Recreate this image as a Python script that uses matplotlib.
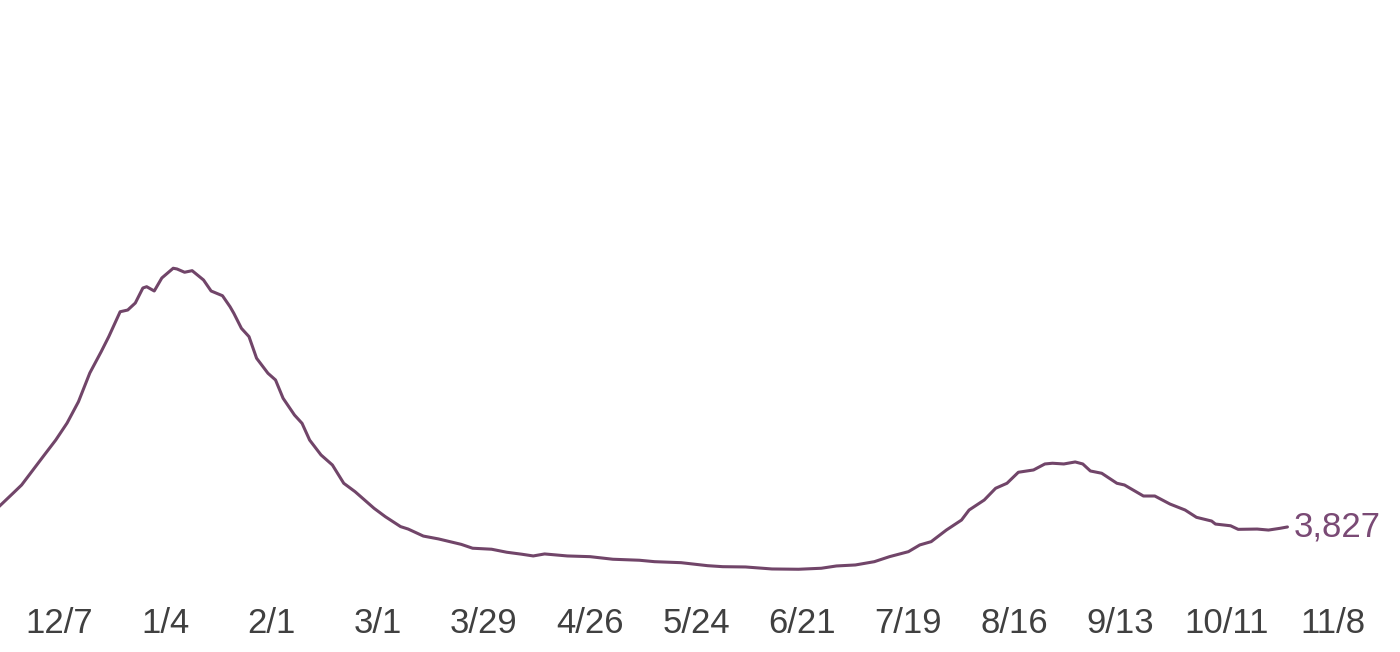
import numpy as np
import pandas as pd
import matplotlib
matplotlib.use('Agg')
import matplotlib.pyplot as plt
import matplotlib.dates as mdates

plt.rcParams['font.family'] = ['Liberation Sans', 'DejaVu Sans']

# hospitalized patients
dates = ['2020-11-21', '2020-11-25', '2020-11-27', '2020-12-01', '2020-12-03', '2020-12-06',
         '2020-12-09', '2020-12-12', '2020-12-15', '2020-12-18', '2020-12-20', '2020-12-23',
         '2020-12-25', '2020-12-27', '2020-12-29', '2020-12-30', '2021-01-01', '2021-01-03',
         '2021-01-06', '2021-01-07', '2021-01-09', '2021-01-11', '2021-01-14', '2021-01-16',
         '2021-01-19', '2021-01-21', '2021-01-22', '2021-01-24', '2021-01-26', '2021-01-28',
         '2021-01-31', '2021-02-02', '2021-02-04', '2021-02-07', '2021-02-09', '2021-02-11',
         '2021-02-14', '2021-02-17', '2021-02-20', '2021-02-23', '2021-02-28', '2021-03-03',
         '2021-03-07', '2021-03-09', '2021-03-13', '2021-03-17', '2021-03-23', '2021-03-26',
         '2021-03-31', '2021-04-04', '2021-04-08', '2021-04-11', '2021-04-14', '2021-04-20',
         '2021-04-26', '2021-05-02', '2021-05-09', '2021-05-13', '2021-05-20', '2021-05-27',
         '2021-05-31', '2021-06-06', '2021-06-13', '2021-06-20', '2021-06-26', '2021-06-30',
         '2021-07-05', '2021-07-10', '2021-07-14', '2021-07-19', '2021-07-22', '2021-07-25',
         '2021-07-29', '2021-08-02', '2021-08-04', '2021-08-08', '2021-08-11', '2021-08-14',
         '2021-08-17', '2021-08-21', '2021-08-24', '2021-08-26', '2021-08-29', '2021-09-01',
         '2021-09-03', '2021-09-05', '2021-09-08', '2021-09-12', '2021-09-14', '2021-09-19',
         '2021-09-22', '2021-09-26', '2021-09-30', '2021-10-03', '2021-10-07', '2021-10-08',
         '2021-10-12', '2021-10-14', '2021-10-19', '2021-10-22', '2021-10-25', '2021-10-27']
values = [5240, 6250, 6760, 8160, 8860, 9900,
          11090, 12580, 14590, 16080, 17130, 18870,
          18990, 19480, 20530, 20620, 20320, 21230,
          21910, 21860, 21630, 21740, 21090, 20320,
          19990, 19220, 18760, 17710, 17130, 15620,
          14570, 14100, 12820, 11650, 11070, 9900,
          8860, 8160, 6880, 6290, 5130, 4540,
          3850, 3680, 3190, 2990, 2610, 2340,
          2270, 2060, 1920, 1800, 1940, 1800,
          1750, 1570, 1500, 1400, 1330, 1120,
          1050, 1030, 890, 870, 940, 1100,
          1170, 1400, 1750, 2100, 2570, 2800,
          3610, 4310, 5010, 5710, 6530, 6880,
          7650, 7810, 8230, 8280, 8230, 8370,
          8230, 7740, 7580, 6880, 6760, 5990,
          5990, 5430, 5010, 4500, 4240, 4030,
          3910, 3660, 3680, 3610, 3730, 3827]

tick_dates = ['2020-12-07', '2021-01-04', '2021-02-01', '2021-03-01', '2021-03-29',
              '2021-04-26', '2021-05-24', '2021-06-21', '2021-07-19', '2021-08-16',
              '2021-09-13', '2021-10-11', '2021-11-08']
tick_labels = ['12/7', '1/4', '2/1', '3/1', '3/29', '4/26', '5/24', '6/21',
               '7/19', '8/16', '9/13', '10/11', '11/8']

x = pd.to_datetime(dates)
ticks = pd.to_datetime(tick_dates)

fig = plt.figure(figsize=(14, 6.52), dpi=100)
ax = fig.add_axes([0, 62 / 652, 1, 590 / 652])

line_color = '#714569'
ax.plot(x, values, color=line_color, lw=2.2, solid_capstyle='round', solid_joinstyle='round')

d0 = mdates.date2num(pd.Timestamp('2020-12-07'))
ax.set_xlim(d0 - 15.7, d0 + 353.7)
ax.set_ylim(-580, 40660)

ax.set_xticks(ticks)
ax.set_xticklabels(tick_labels)
ax.tick_params(axis='x', length=0, pad=12, labelsize=25, labelcolor='#404040')
ax.set_yticks([])
for s in ax.spines.values():
    s.set_visible(False)

ax.annotate('{:,}'.format(values[-1]), xy=(x[-1], values[-1]), xytext=(4.5, 0),
            textcoords='offset points', va='center', ha='left',
            fontsize=25, color='#7a4a75')

plt.savefig('out.png', dpi=100)
